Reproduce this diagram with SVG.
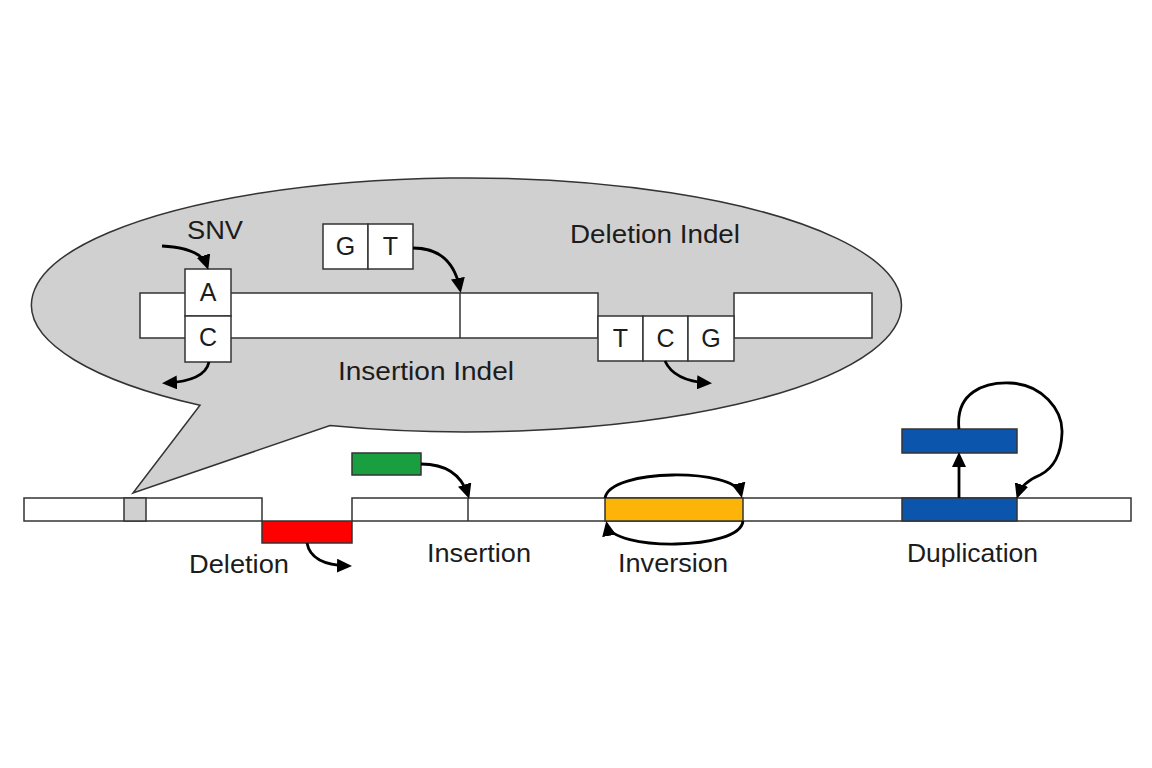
<svg xmlns="http://www.w3.org/2000/svg" width="1152" height="768" viewBox="0 0 1152 768">
<style>
.lbl{font-family:"Liberation Sans",Arial,sans-serif;font-size:25px;fill:#1c1c1c}
.base{font-family:"Liberation Sans",Arial,sans-serif;font-size:25px;fill:#1c1c1c;text-anchor:middle}
.seg{fill:#fff;stroke:#333;stroke-width:1.5}
.box{stroke:#333;stroke-width:1.5}
.arr{fill:none;stroke:#000;stroke-width:2.8;marker-end:url(#ah)}
</style>
<defs>
<marker id="ah" markerUnits="userSpaceOnUse" markerWidth="16" markerHeight="14" refX="11" refY="7" orient="auto">
<path d="M0,0 L15,7 L0,14 z" fill="#000"/>
</marker>
</defs>
<rect width="1152" height="768" fill="#fff"/>

<g id="bubble">
<path d="M200,405.3 A435,127 0 1 1 330,425.5 L133,493 Z" fill="#d0d0d0" stroke="#333" stroke-width="1.5" stroke-linejoin="miter"/>
</g>

<g id="inner-strand">
<rect class="seg" x="140" y="293" width="458" height="45"/>
<rect class="seg" x="734" y="293" width="138" height="45"/>
<line x1="460" y1="293" x2="460" y2="338" stroke="#333" stroke-width="1.5"/>
</g>

<g id="snv">
<rect class="seg" x="185" y="269" width="46" height="47"/>
<rect class="seg" x="185" y="316" width="46" height="46"/>
<text class="base" x="208" y="301">A</text>
<text class="base" x="208" y="346">C</text>
<text class="lbl" x="187" y="239" textLength="56" lengthAdjust="spacingAndGlyphs">SNV</text>
</g>

<g id="gt">
<rect class="seg" x="323" y="224" width="45" height="45"/>
<rect class="seg" x="368" y="224" width="45" height="45"/>
<text class="base" x="345.5" y="255">G</text>
<text class="base" x="390.5" y="255">T</text>
</g>

<g id="tcg">
<rect class="seg" x="598" y="316" width="45" height="45"/>
<rect class="seg" x="643" y="316" width="45" height="45"/>
<rect class="seg" x="688" y="316" width="46" height="45"/>
<text class="base" x="620.5" y="347">T</text>
<text class="base" x="665.5" y="347">C</text>
<text class="base" x="711" y="347">G</text>
</g>

<g id="bubble-labels">
<text class="lbl" x="570" y="243" textLength="170" lengthAdjust="spacingAndGlyphs">Deletion Indel</text>
<text class="lbl" x="338" y="380" textLength="176" lengthAdjust="spacingAndGlyphs">Insertion Indel</text>
</g>

<g id="genome">
<rect class="seg" x="24" y="498" width="238" height="23"/>
<rect x="124" y="498" width="22" height="23" fill="#d0d0d0" stroke="#333" stroke-width="1.5"/>
<rect class="seg" x="352" y="498" width="779" height="23"/>
<line x1="468" y1="498" x2="468" y2="521" stroke="#333" stroke-width="1.5"/>
</g>

<g id="deletion">
<rect class="box" x="262" y="521" width="90" height="22" fill="#ff0000"/>
<text class="lbl" x="189" y="573" textLength="100" lengthAdjust="spacingAndGlyphs">Deletion</text>
</g>

<g id="insertion">
<rect class="box" x="352" y="453" width="69" height="22" fill="#1a9f40"/>
<text class="lbl" x="427" y="562" textLength="104" lengthAdjust="spacingAndGlyphs">Insertion</text>
</g>

<g id="inversion">
<rect class="box" x="605" y="498" width="138" height="23" fill="#fdb408"/>
<text class="lbl" x="618" y="572" textLength="110" lengthAdjust="spacingAndGlyphs">Inversion</text>
</g>

<g id="duplication">
<rect class="box" x="902" y="498" width="115" height="23" fill="#0b56ac"/>
<rect class="box" x="902" y="429" width="115" height="24" fill="#0b56ac"/>
<text class="lbl" x="907" y="562" textLength="131" lengthAdjust="spacingAndGlyphs">Duplication</text>
</g>

<g id="connectors">
<path class="arr" d="M162,246 Q201,248 207,266"/>
<path class="arr" d="M209,362 Q205,381 166,383"/>
<path class="arr" d="M413,248 Q452,248 460,289"/>
<path class="arr" d="M665,361 Q674,381 708,383"/>
<path class="arr" d="M421,464 Q458,464 468,495"/>
<path class="arr" d="M307,543 Q311,565 348,566"/>
<path class="arr" d="M605,498 C610,468 735,468 741,494"/>
<path class="arr" d="M743,521 C740,551 612,551 607,525"/>
<path class="arr" d="M959,498 L959,456"/>
<path class="arr" d="M959,429 C955,392 985,382 1010,383 C1042,384 1063,410 1062,433 C1061,460 1050,470 1040,475 C1028,480 1021,486 1018,495"/>
</g>
</svg>
